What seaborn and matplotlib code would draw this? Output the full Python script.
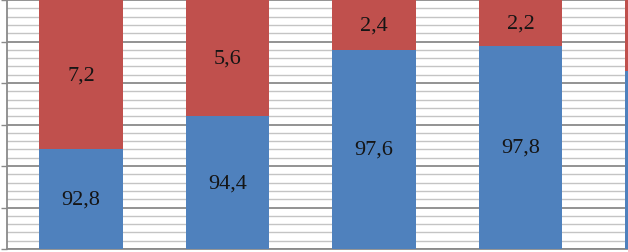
import numpy as np
import pandas as pd
import matplotlib
matplotlib.use("Agg")
import matplotlib.pyplot as plt
from matplotlib.ticker import MultipleLocator
import seaborn as sns

# data (percent), last bar is cut off at the right edge
groups = ["1", "2", "3", "4", "5"]
blue_vals = [92.8, 94.4, 97.6, 97.8, 96.6]
red_vals = [7.2, 5.6, 2.4, 2.2, 3.4]

BLUE = "#4F81BD"
RED = "#C0504D"

sns.set_style("white")
plt.rcParams["font.family"] = ["Liberation Serif", "DejaVu Serif"]

df = pd.DataFrame({"group": groups, "blue": blue_vals, "red": red_vals})
df["total"] = df["blue"] + df["red"]

fig = plt.figure(figsize=(6.28, 2.53), dpi=100)
ax = fig.add_axes([7 / 628, 1 - 250 / 253, 1 - 7 / 628, 249 / 253])

# stacked bars: full height in red, blue part on top of it
sns.barplot(data=df, x="group", y="total", color=RED, width=0.57,
            saturation=1, edgecolor="none", linewidth=0, ax=ax, zorder=2)
sns.barplot(data=df, x="group", y="blue", color=BLUE, width=0.57,
            saturation=1, edgecolor="none", linewidth=0, ax=ax, zorder=3)

ax.set_ylim(88, 100)
ax.set_xlim(-0.505, 3.734)

ax.yaxis.set_major_locator(MultipleLocator(2))
ax.yaxis.set_minor_locator(MultipleLocator(0.4))
ax.grid(which="major", axis="y", color="#8a8a8a", linewidth=1.3, zorder=0)
ax.grid(which="minor", axis="y", color="#c4c4c4", linewidth=1.0, zorder=0)
ax.set_axisbelow(True)

ax.tick_params(axis="y", which="major", direction="out", length=4,
               color="#8a8a8a", width=1, labelleft=False, left=True)
ax.tick_params(axis="y", which="minor", length=0)
ax.tick_params(axis="x", length=0, labelbottom=False)
ax.set_xlabel("")
ax.set_ylabel("")

for side in ["top", "right"]:
    ax.spines[side].set_visible(False)
for side in ["left", "bottom"]:
    ax.spines[side].set_color("#8a8a8a")
    ax.spines[side].set_linewidth(1.3)

# value labels with decimal comma, centred in each segment
# (the fifth bar is cut off in the picture, so its labels are not shown)
x_right = ax.get_xlim()[1]
for i, (b, r) in enumerate(zip(blue_vals, red_vals)):
    if i + 0.3 > x_right:
        continue
    ax.text(i, (88 + b) / 2, f"{b:.1f}".replace(".", ","), ha="center",
            va="center", fontsize=16, color="#151515", zorder=5)
    ax.text(i, b + r / 2, f"{r:.1f}".replace(".", ","), ha="center",
            va="center", fontsize=16, color="#151515", zorder=5)

fig.savefig("out.png", dpi=100)
